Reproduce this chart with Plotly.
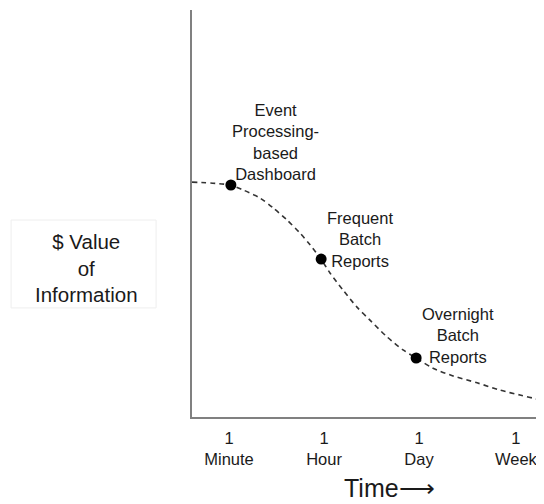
import plotly.graph_objects as go

# Curve (x: 1=Minute, 2=Hour, 3=Day, 4=Week on a log-like time scale; y: relative value)
curve_x = [0.611, 1.01, 1.147, 1.326, 1.463, 1.611, 1.747, 1.853, 1.968, 2.063, 2.2, 2.347,
           2.484, 2.663, 2.832, 2.968, 3.147, 3.358, 3.611, 3.853, 4.063, 4.274, 4.316]
curve_y = [57.7, 57.0, 55.8, 53.8, 51.4, 48.4, 45.2, 42.3, 38.8, 35.4, 31.2, 27.0,
           23.8, 19.7, 16.5, 14.5, 12.0, 10.1, 8.4, 6.6, 5.4, 4.2, 3.9]

point_x = [1.02, 1.97, 2.97]
point_y = [57.0, 38.8, 14.5]
point_labels = ["Event<br>Processing-<br>based<br>Dashboard",
                "Frequent<br>Batch<br>Reports",
                "Overnight<br>Batch<br>Reports"]
label_x = [1.49, 2.38, 3.41]
label_y = [67.6, 43.7, 20.1]

tick_vals = [1, 2, 3, 4.02]
tick_text = ["1<br>Minute", "1<br>Hour", "1<br>Day", "1<br>Week"]

FONT = "Liberation Sans, Arial, sans-serif"
TXT = "#1a1a1a"

fig = go.Figure()
fig.add_trace(go.Scatter(x=curve_x, y=curve_y, mode="lines", line_shape="spline",
                         line=dict(color="#333333", width=1.6, dash="5px,4px", smoothing=0.8),
                         hoverinfo="skip", showlegend=False))
fig.add_trace(go.Scatter(x=point_x, y=point_y, mode="markers",
                         marker=dict(color="#000000", size=11),
                         showlegend=False))

for tx, ty, t in zip(label_x, label_y, point_labels):
    fig.add_annotation(x=tx, y=ty, text=t, showarrow=False, xanchor="center", yanchor="middle",
                       font=dict(family=FONT, size=16.5, color=TXT))

fig.add_annotation(x=2.69, y=-0.174, xref="x", yref="paper", text="Time\u27f6", showarrow=False,
                   xanchor="center", yanchor="middle", font=dict(family=FONT, size=25, color=TXT))
fig.add_annotation(x=-0.301, y=0.366, xref="paper", yref="paper",
                   text="$ Value<br>of<br>Information", showarrow=False,
                   xanchor="center", yanchor="middle", font=dict(family=FONT, size=20.5, color=TXT))
fig.add_shape(type="rect", xref="paper", yref="paper", x0=-0.514, x1=-0.102, y0=0.268, y1=0.484,
              line=dict(color="#eeeeee", width=1))

fig.update_layout(
    width=536, height=496,
    margin=dict(l=184, r=0, t=2, b=87),
    paper_bgcolor="white", plot_bgcolor="white",
    font=dict(family=FONT, size=16.5, color=TXT),
    xaxis=dict(range=[0.6105, 4.3158], showgrid=False, zeroline=False, showline=True,
               linecolor="#808080", linewidth=2, tickvals=tick_vals, ticktext=tick_text,
               ticks="", ticklabelstandoff=5, tickfont=dict(family=FONT, size=16.5, color=TXT),
               fixedrange=True),
    yaxis=dict(range=[0, 100], showgrid=False, zeroline=False, showline=True,
               linecolor="#808080", linewidth=2, showticklabels=False, ticks="", fixedrange=True),
)

fig.write_html("out.html")
